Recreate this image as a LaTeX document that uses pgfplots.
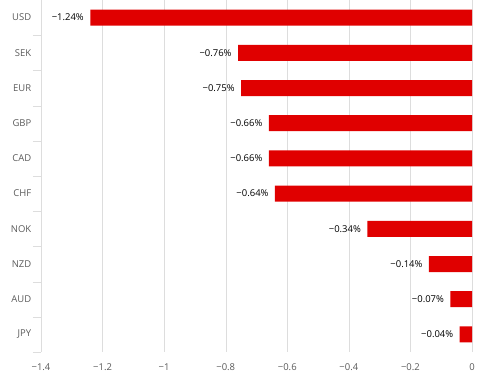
\documentclass[border=0pt]{standalone}
\usepackage{pgfplots}
\pgfplotsset{compat=1.18}
\usepackage{fontspec}
\setmainfont{Open Sans}
\definecolor{barred}{HTML}{E00000}
\definecolor{tickgray}{HTML}{5A5A5A}
\definecolor{gridgray}{HTML}{DDDDDD}
\begin{document}
\begin{tikzpicture}
\begin{axis}[
  scale only axis,
  width=431bp, height=352bp,
  xbar, bar width=16bp,
  xmin=-1.4, xmax=0,
  ymin=-0.5, ymax=9.5,
  y dir=reverse,
  ytick={0,...,9},
  yticklabels={USD,SEK,EUR,GBP,CAD,CHF,NOK,NZD,AUD,JPY},
  minor ytick={0.5,1.5,...,9.5},
  major y tick style={draw=none},
  minor y tick style={draw=gridgray},
  minor tick length=8bp,
  tick align=outside,
  xtick={-1.4,-1.2,-1,-0.8,-0.6,-0.4,-0.2,0},
  xticklabels={−1.4,−1.2,−1,−0.8,−0.6,−0.4,−0.2,0},
  major x tick style={draw=none},
  xmajorgrids,
  grid style={draw=gridgray},
  axis x line*=bottom,
  axis y line*=left,
  x axis line style={draw=none},
  y axis line style={draw=gridgray},
  ticklabel style={font=\fontsize{9.5}{11}\selectfont, text=tickgray},
  xticklabel style={yshift=-4bp},
  yticklabel style={xshift=-2bp},
  nodes near coords={−\pgfmathprintnumber[fixed,precision=2,zerofill,assume math mode=true]{\pgfplotspointmeta}\%},
  nodes near coords style={anchor=east, font=\fontsize{9.5}{11}\selectfont, text=black, xshift=-3bp},
  point meta=explicit,
]
\addplot[fill=barred, draw=none] table[x expr=-\thisrow{v}, y=i, meta=v] {
i v
0 1.24
1 0.76
2 0.75
3 0.66
4 0.66
5 0.64
6 0.34
7 0.14
8 0.07
9 0.04
};
\end{axis}
\pgfresetboundingbox
\path (-41bp,-36bp) rectangle (438bp,352bp);
\end{tikzpicture}
\end{document}
